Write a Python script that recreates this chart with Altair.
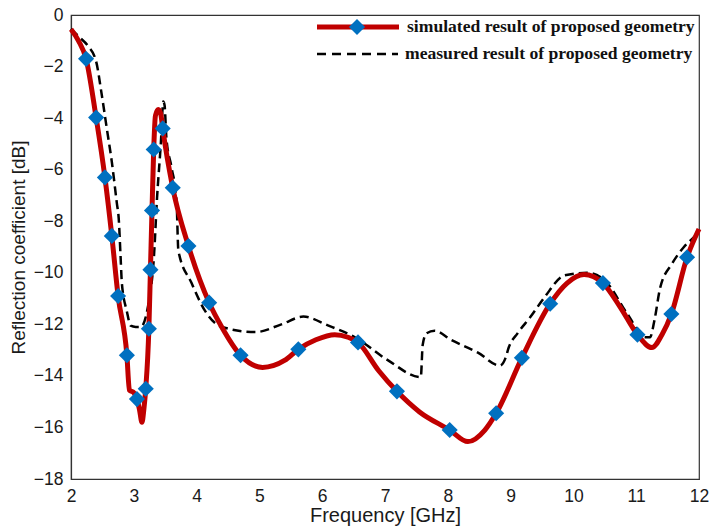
import altair as alt
import pandas as pd

# ---- data ----
sim_freq = [2.0, 2.12, 2.24, 2.40, 2.54, 2.65, 2.75, 2.89, 2.93, 3.0, 3.05, 3.09, 3.13, 3.16, 3.19,
            3.24, 3.265, 3.29, 3.317, 3.345, 3.39, 3.43, 3.46, 3.62, 3.87, 4.2, 4.4, 4.7, 5.05, 5.4,
            5.62, 5.9, 6.2, 6.41, 6.57, 6.9, 7.19, 7.55, 8.03, 8.32, 8.59, 8.77, 9.18, 9.63, 9.9,
            10.17, 10.47, 10.75, 11.02, 11.25, 11.41, 11.56, 11.81, 12.0]
sim_s11 = [-0.55, -1.0, -1.7, -3.98, -6.3, -8.57, -10.9, -13.2, -14.55, -14.65, -14.9, -15.3, -15.8, -15.3, -14.5,
           -12.17, -9.88, -7.58, -5.22, -3.9, -3.67, -3.85, -4.4, -6.7, -8.96, -11.16, -12.1, -13.2, -13.67, -13.4,
           -12.97, -12.6, -12.4, -12.5, -12.7, -13.8, -14.6, -15.4, -16.1, -16.55, -16.1, -15.45, -13.3, -11.2, -10.4,
           -10.07, -10.4, -11.35, -12.4, -12.9, -12.4, -11.6, -9.4, -8.3]

marker_freq = [2.24, 2.40, 2.54, 2.65, 2.75, 2.89, 3.05, 3.19, 3.24, 3.265, 3.29, 3.317, 3.46,
               3.62, 3.87, 4.2, 4.7, 5.62, 6.57, 7.19, 8.03, 8.77, 9.18, 9.63, 10.47, 11.02,
               11.56, 11.81]
marker_s11 = [-1.7, -3.98, -6.3, -8.57, -10.9, -13.2, -14.9, -14.5, -12.17, -9.88, -7.58, -5.22, -4.4,
              -6.7, -8.96, -11.16, -13.2, -12.97, -12.7, -14.6, -16.1, -15.45, -13.3, -11.2, -10.4, -12.4,
              -11.6, -9.4]

meas_freq = [2.0, 2.13, 2.27, 2.40, 2.49, 2.57, 2.65, 2.73, 2.76, 2.79, 2.81, 2.89, 2.95, 3.03, 3.11,
             3.24, 3.32, 3.37, 3.43, 3.47, 3.49, 3.52, 3.60, 3.68, 3.71, 3.92, 4.14, 4.40, 4.94, 5.35,
             5.70, 6.10, 6.52, 7.05, 7.57, 7.60, 7.66, 7.79, 8.05, 8.48, 8.83, 8.92, 8.97, 9.11, 9.32,
             9.54, 9.86, 10.22, 10.50, 10.86, 11.14, 11.22, 11.29, 11.38, 11.57, 11.76, 11.94, 12.0]
meas_s11 = [-0.54, -0.85, -1.2, -1.8, -3.1, -4.4, -5.7, -7.3, -7.9, -9.4, -10.4, -11.5, -12.05, -12.1, -12.1,
            -11.1, -9.4, -7.1, -5.0, -3.36, -3.5, -4.8, -5.9, -7.2, -9.15, -10.4, -11.5, -12.1, -12.3, -12.0,
            -11.7, -12.05, -12.5, -13.4, -14.05, -12.8, -12.35, -12.25, -12.6, -13.1, -13.6, -13.3, -12.9, -12.35, -11.7,
            -10.95, -10.1, -10.0, -10.3, -11.6, -12.5, -12.5, -11.85, -10.6, -9.65, -9.0, -8.57, -8.4]

x_ticks = [2, 3, 4, 5, 6, 7, 8, 9, 10, 11, 12]
y_ticks = [0, -2, -4, -6, -8, -10, -12, -14, -16, -18]
legend_labels = ["simulated result of proposed geometry", "measured result of proposed geometry"]

RED = "#C00000"
BLUE = "#0070C0"
SANS = "Arial, Liberation Sans, sans-serif"
SERIF = "Times New Roman, Liberation Serif, serif"

sim_df = pd.DataFrame({"f": sim_freq, "s": sim_s11})
mk_df = pd.DataFrame({"f": marker_freq, "s": marker_s11})
meas_df = pd.DataFrame({"f": meas_freq, "s": meas_s11})

xs = alt.Scale(domain=[2, 12], nice=False, zero=False)
ys = alt.Scale(domain=[-18, 0], nice=False, zero=False)
xax = alt.Axis(values=x_ticks, format="d", title="Frequency [GHz]", titleFontSize=20, titlePadding=1,
               labelPadding=8, labelFlush=False)
yax = alt.Axis(values=y_ticks, format="d", title="Reflection coefficient [dB]", titleFontSize=19,
               titlePadding=5, labelPadding=8, labelFlush=False)

meas = alt.Chart(meas_df).mark_line(color="black", strokeWidth=2.5, strokeDash=[9, 5],
                                    interpolate="monotone").encode(
    x=alt.X("f:Q", scale=xs, axis=xax),
    y=alt.Y("s:Q", scale=ys, axis=yax),
)
sim = alt.Chart(sim_df).mark_line(color=RED, strokeWidth=5, interpolate="monotone").encode(
    x=alt.X("f:Q", scale=xs),
    y=alt.Y("s:Q", scale=ys),
)
mk = alt.Chart(mk_df).mark_point(shape="diamond", filled=True, color=BLUE, size=260, opacity=1).encode(
    x=alt.X("f:Q", scale=xs),
    y=alt.Y("s:Q", scale=ys),
)

# ---- manual legend (top right inside plot) ----
leg1 = pd.DataFrame({"label": [legend_labels[0]]})
leg2 = pd.DataFrame({"label": [legend_labels[1]]})
l1_line = alt.Chart(leg1).mark_rule(color=RED, strokeWidth=5).encode(
    x=alt.value(246), x2=alt.value(328), y=alt.value(12))
l1_pt = alt.Chart(leg1).mark_point(shape="diamond", filled=True, color=BLUE, size=260, opacity=1).encode(
    x=alt.value(286), y=alt.value(12))
l1_txt = alt.Chart(leg1).mark_text(align="left", baseline="middle", font=SERIF, fontWeight="bold",
                                   fontSize=17.6, color="#111").encode(
    x=alt.value(336), y=alt.value(12), text="label:N")
l2_line = alt.Chart(leg2).mark_rule(color="black", strokeWidth=2.5, strokeDash=[9, 6]).encode(
    x=alt.value(246), x2=alt.value(327), y=alt.value(39))
l2_txt = alt.Chart(leg2).mark_text(align="left", baseline="middle", font=SERIF, fontWeight="bold",
                                   fontSize=17.6, color="#111").encode(
    x=alt.value(334), y=alt.value(39), text="label:N")

chart = alt.layer(meas, sim, mk, l1_line, l1_pt, l1_txt, l2_line, l2_txt).properties(
    width=628, height=464,
    autosize=alt.AutoSizeParams(type="none"),
    padding={"left": 63, "top": 7, "right": 10, "bottom": 53},
).configure_view(
    stroke="#333", strokeWidth=1.2
).configure_axis(
    grid=False, ticks=False, domain=True, domainColor="#333", domainWidth=1.2,
    labelFont=SANS, labelFontSize=17.5, labelColor="#1a1a1a",
    titleFont=SANS, titleColor="#1a1a1a", titleFontWeight="normal",
)

chart.save("out.html", embed_options={"renderer": "svg", "actions": False})
